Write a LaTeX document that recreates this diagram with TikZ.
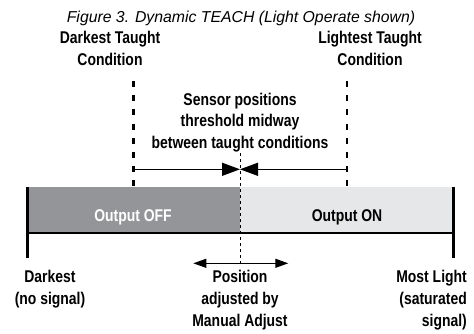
\documentclass[tikz,border=0pt]{standalone}
\usepackage{fontspec}
\usetikzlibrary{arrows.meta}
\setmainfont{Liberation Sans}
\IfFontExistsTF{Liberation Sans Narrow}{\newfontfamily\labfont{Liberation Sans Narrow}[BoldFeatures={FakeBold=0.7}]}{\newfontfamily\labfont{Liberation Sans}[FakeStretch=0.82]}
\newfontfamily\titlefont{Liberation Sans}
\definecolor{offgray}{HTML}{939598}
\definecolor{ongray}{HTML}{E6E7E8}
\tikzset{
  lab/.style={font=\labfont\bfseries\fontsize{17}{21.8}\selectfont, align=center, inner sep=0pt, anchor=base},
  titlestyle/.style={font=\titlefont\itshape\fontsize{15.8}{18}\selectfont, inner sep=0pt, anchor=base},
  taughtline/.style={line width=2.2pt, dash pattern=on 6pt off 8.2pt},
  midline/.style={line width=0.9pt, dash pattern=on 3pt off 3pt},
  bigarrow/.style={line width=1.3pt, -{Triangle[length=18pt,width=13pt]}},
  smallarrows/.style={line width=1.3pt, {Triangle[length=13pt,width=9pt]}-{Triangle[length=13pt,width=9pt]}},
  edge/.style={line width=2.5pt},
  baseline/.style={line width=2pt}
}
\begin{document}
\begin{tikzpicture}[x=1pt,y=-1pt]
\useasboundingbox (0,0) rectangle (474,333);
% title
\node[titlestyle] (title) at (241,22.7) {Figure 3. Dynamic TEACH (Light Operate shown)};
% bar
\fill[offgray] (27.3,187) rectangle (240,233.3);
\fill[ongray] (240,187) rectangle (453.3,233.3);
\coordinate (barbl) at (27.3,233.3);
\coordinate (barbr) at (453.3,233.3);
\coordinate (lefttop) at (27.3,187);
\coordinate (leftbot) at (27.3,257.5);
\coordinate (righttop) at (453.3,187);
\coordinate (rightbot) at (453.3,257.5);
\draw[baseline] (barbl) -- (barbr);
\draw[edge] (lefttop) -- (leftbot);
\draw[edge] (righttop) -- (rightbot);
% taught condition lines
\coordinate (dtop) at (133.5,81);
\coordinate (dbot) at (133.5,187);
\coordinate (ltop) at (347,81);
\coordinate (lbot) at (347,187);
\draw[taughtline] (dtop) -- (dbot);
\draw[taughtline] (ltop) -- (lbot);
% threshold line
\coordinate (mtop) at (240,153);
\coordinate (mbot) at (240,263.3);
\draw[midline] (mtop) -- (mbot);
% arrows to threshold
\coordinate (aleft) at (133.5,169.3);
\coordinate (aright) at (347,169.3);
\coordinate (amid) at (240,169.3);
\draw[bigarrow] (aleft) -- (amid);
\draw[bigarrow] (aright) -- (amid);
% manual adjust arrow
\coordinate (bl) at (193.3,263.3);
\coordinate (br) at (288.3,263.3);
\draw[smallarrows] (bl) -- (br);
% labels (base anchor = baseline of last line)
\node[lab] (dtc) at (110,65.5) {Darkest Taught\\Condition};
\node[lab] (ltc) at (370,65.5) {Lightest Taught\\Condition};
\node[lab] (sensor) at (240,148.6) {Sensor positions\\threshold midway\\between taught conditions};
\node[lab, text=white] (off) at (133,221.7) {Output OFF};
\node[lab] (on) at (347,221.7) {Output ON};
\node[lab] (darkest) at (50,304.5) {Darkest\\(no signal)};
\node[lab] (position) at (240,326.3) {Position\\adjusted by\\Manual Adjust};
\node[lab, align=right, anchor=base east] (mostlight) at (467,326.3) {Most Light\\(saturated\\signal)};
\end{tikzpicture}
\end{document}
